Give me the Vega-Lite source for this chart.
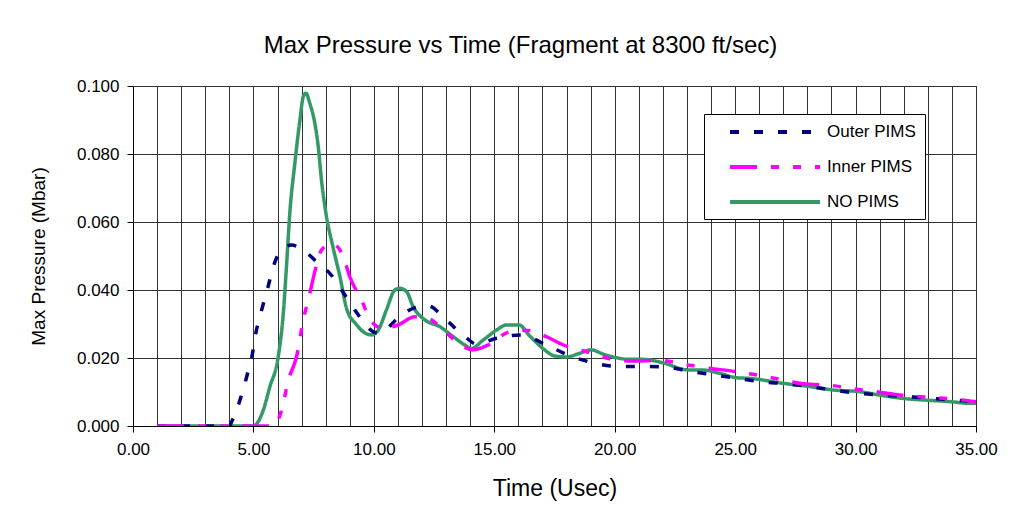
{
  "$schema": "https://vega.github.io/schema/vega-lite/v6.json",
  "width": 843,
  "height": 340,
  "autosize": "none",
  "padding": {"left": 133, "top": 86, "right": 41, "bottom": 94},
  "background": "white",
  "title": {
    "text": "Max Pressure vs Time (Fragment at 8300 ft/sec)",
    "font": "Liberation Sans",
    "fontSize": 24,
    "fontWeight": "normal",
    "color": "#000000",
    "anchor": "middle",
    "dx": -34,
    "offset": 19
  },
  "config": {
    "view": {"stroke": "#333333", "strokeWidth": 1},
    "axis": {
      "labelFont": "Liberation Sans",
      "titleFont": "Liberation Sans",
      "labelColor": "#000000",
      "titleColor": "#000000",
      "titleFontWeight": "normal",
      "domainColor": "#000000",
      "tickColor": "#000000",
      "gridColor": "#333333",
      "gridWidth": 1,
      "gridOpacity": 1
    }
  },
  "data": {
    "values": [
      {"series": "NO PIMS", "t": 1, "p": 0},
      {"series": "NO PIMS", "t": 2, "p": 0},
      {"series": "NO PIMS", "t": 3, "p": 0},
      {"series": "NO PIMS", "t": 4, "p": 0},
      {"series": "NO PIMS", "t": 5.0, "p": 0},
      {"series": "NO PIMS", "t": 5.41, "p": 0.0047},
      {"series": "NO PIMS", "t": 5.68, "p": 0.0115},
      {"series": "NO PIMS", "t": 6.03, "p": 0.0204},
      {"series": "NO PIMS", "t": 6.24, "p": 0.0331},
      {"series": "NO PIMS", "t": 6.38, "p": 0.0478},
      {"series": "NO PIMS", "t": 6.51, "p": 0.0626},
      {"series": "NO PIMS", "t": 6.72, "p": 0.0773},
      {"series": "NO PIMS", "t": 6.93, "p": 0.090},
      {"series": "NO PIMS", "t": 7.07, "p": 0.0969},
      {"series": "NO PIMS", "t": 7.18, "p": 0.0979},
      {"series": "NO PIMS", "t": 7.34, "p": 0.0949},
      {"series": "NO PIMS", "t": 7.55, "p": 0.089},
      {"series": "NO PIMS", "t": 7.69, "p": 0.0822},
      {"series": "NO PIMS", "t": 7.83, "p": 0.072},
      {"series": "NO PIMS", "t": 8.01, "p": 0.0626},
      {"series": "NO PIMS", "t": 8.3, "p": 0.0527},
      {"series": "NO PIMS", "t": 8.59, "p": 0.044},
      {"series": "NO PIMS", "t": 8.87, "p": 0.0345},
      {"series": "NO PIMS", "t": 9.28, "p": 0.0298},
      {"series": "NO PIMS", "t": 9.6, "p": 0.0275},
      {"series": "NO PIMS", "t": 9.9, "p": 0.0268},
      {"series": "NO PIMS", "t": 10.18, "p": 0.0282},
      {"series": "NO PIMS", "t": 10.52, "p": 0.0341},
      {"series": "NO PIMS", "t": 10.87, "p": 0.0400},
      {"series": "NO PIMS", "t": 11.08, "p": 0.0405},
      {"series": "NO PIMS", "t": 11.36, "p": 0.0395},
      {"series": "NO PIMS", "t": 11.63, "p": 0.0351},
      {"series": "NO PIMS", "t": 12.12, "p": 0.0312},
      {"series": "NO PIMS", "t": 12.74, "p": 0.0292},
      {"series": "NO PIMS", "t": 13.29, "p": 0.0263},
      {"series": "NO PIMS", "t": 13.78, "p": 0.0238},
      {"series": "NO PIMS", "t": 14.05, "p": 0.0228},
      {"series": "NO PIMS", "t": 14.54, "p": 0.0253},
      {"series": "NO PIMS", "t": 15.09, "p": 0.0282},
      {"series": "NO PIMS", "t": 15.5, "p": 0.0297},
      {"series": "NO PIMS", "t": 16.03, "p": 0.0297},
      {"series": "NO PIMS", "t": 16.47, "p": 0.0265},
      {"series": "NO PIMS", "t": 17.02, "p": 0.0228},
      {"series": "NO PIMS", "t": 17.51, "p": 0.0206},
      {"series": "NO PIMS", "t": 18.0, "p": 0.0203},
      {"series": "NO PIMS", "t": 18.55, "p": 0.0214},
      {"series": "NO PIMS", "t": 19.03, "p": 0.0224},
      {"series": "NO PIMS", "t": 19.5, "p": 0.0212},
      {"series": "NO PIMS", "t": 20.06, "p": 0.0201},
      {"series": "NO PIMS", "t": 20.6, "p": 0.0196},
      {"series": "NO PIMS", "t": 21.17, "p": 0.0196},
      {"series": "NO PIMS", "t": 22.0, "p": 0.0186},
      {"series": "NO PIMS", "t": 23.04, "p": 0.0165},
      {"series": "NO PIMS", "t": 23.6, "p": 0.0165},
      {"series": "NO PIMS", "t": 24.36, "p": 0.0155},
      {"series": "NO PIMS", "t": 25.05, "p": 0.0142},
      {"series": "NO PIMS", "t": 25.6, "p": 0.014},
      {"series": "NO PIMS", "t": 27.05, "p": 0.0125},
      {"series": "NO PIMS", "t": 28.09, "p": 0.0116},
      {"series": "NO PIMS", "t": 29.06, "p": 0.0106},
      {"series": "NO PIMS", "t": 30.17, "p": 0.0101},
      {"series": "NO PIMS", "t": 31.0, "p": 0.0091},
      {"series": "NO PIMS", "t": 31.97, "p": 0.0081},
      {"series": "NO PIMS", "t": 32.93, "p": 0.0076},
      {"series": "NO PIMS", "t": 34.04, "p": 0.0071},
      {"series": "NO PIMS", "t": 34.66, "p": 0.0067},
      {"series": "NO PIMS", "t": 35, "p": 0.0067},

      {"series": "Outer PIMS", "t": 1, "p": 0},
      {"series": "Outer PIMS", "t": 2, "p": 0},
      {"series": "Outer PIMS", "t": 3, "p": 0},
      {"series": "Outer PIMS", "t": 4.0, "p": 0},
      {"series": "Outer PIMS", "t": 4.1, "p": 0.0013},
      {"series": "Outer PIMS", "t": 4.44, "p": 0.0076},
      {"series": "Outer PIMS", "t": 4.72, "p": 0.0145},
      {"series": "Outer PIMS", "t": 4.95, "p": 0.0209},
      {"series": "Outer PIMS", "t": 5.1, "p": 0.0273},
      {"series": "Outer PIMS", "t": 5.34, "p": 0.0341},
      {"series": "Outer PIMS", "t": 5.59, "p": 0.0405},
      {"series": "Outer PIMS", "t": 5.85, "p": 0.0474},
      {"series": "Outer PIMS", "t": 6.17, "p": 0.0518},
      {"series": "Outer PIMS", "t": 6.58, "p": 0.0532},
      {"series": "Outer PIMS", "t": 7.14, "p": 0.0513},
      {"series": "Outer PIMS", "t": 7.83, "p": 0.0469},
      {"series": "Outer PIMS", "t": 8.17, "p": 0.0449},
      {"series": "Outer PIMS", "t": 8.66, "p": 0.040},
      {"series": "Outer PIMS", "t": 9.21, "p": 0.0341},
      {"series": "Outer PIMS", "t": 9.7, "p": 0.0295},
      {"series": "Outer PIMS", "t": 10.0, "p": 0.0276},
      {"series": "Outer PIMS", "t": 10.24, "p": 0.0273},
      {"series": "Outer PIMS", "t": 11.0, "p": 0.0317},
      {"series": "Outer PIMS", "t": 11.63, "p": 0.0346},
      {"series": "Outer PIMS", "t": 12.25, "p": 0.0353},
      {"series": "Outer PIMS", "t": 13.0, "p": 0.0312},
      {"series": "Outer PIMS", "t": 13.78, "p": 0.0263},
      {"series": "Outer PIMS", "t": 14.26, "p": 0.0241},
      {"series": "Outer PIMS", "t": 15.09, "p": 0.0258},
      {"series": "Outer PIMS", "t": 16.13, "p": 0.0268},
      {"series": "Outer PIMS", "t": 17.16, "p": 0.0238},
      {"series": "Outer PIMS", "t": 18.13, "p": 0.0207},
      {"series": "Outer PIMS", "t": 19.1, "p": 0.0186},
      {"series": "Outer PIMS", "t": 20.14, "p": 0.0175},
      {"series": "Outer PIMS", "t": 21.17, "p": 0.0175},
      {"series": "Outer PIMS", "t": 22.14, "p": 0.0173},
      {"series": "Outer PIMS", "t": 23.18, "p": 0.016},
      {"series": "Outer PIMS", "t": 24.15, "p": 0.015},
      {"series": "Outer PIMS", "t": 25.1, "p": 0.014},
      {"series": "Outer PIMS", "t": 26.09, "p": 0.013},
      {"series": "Outer PIMS", "t": 27.13, "p": 0.0124},
      {"series": "Outer PIMS", "t": 28.09, "p": 0.0116},
      {"series": "Outer PIMS", "t": 29.06, "p": 0.0106},
      {"series": "Outer PIMS", "t": 30.17, "p": 0.0096},
      {"series": "Outer PIMS", "t": 31.13, "p": 0.0091},
      {"series": "Outer PIMS", "t": 32.2, "p": 0.0086},
      {"series": "Outer PIMS", "t": 33.2, "p": 0.0081},
      {"series": "Outer PIMS", "t": 34.1, "p": 0.0076},
      {"series": "Outer PIMS", "t": 35, "p": 0.0072},

      {"series": "Inner PIMS", "t": 1, "p": 0},
      {"series": "Inner PIMS", "t": 2, "p": 0},
      {"series": "Inner PIMS", "t": 3, "p": 0},
      {"series": "Inner PIMS", "t": 4, "p": 0},
      {"series": "Inner PIMS", "t": 5, "p": 0},
      {"series": "Inner PIMS", "t": 5.82, "p": 0},
      {"series": "Inner PIMS", "t": 6.17, "p": 0.0047},
      {"series": "Inner PIMS", "t": 6.45, "p": 0.0135},
      {"series": "Inner PIMS", "t": 6.79, "p": 0.0204},
      {"series": "Inner PIMS", "t": 7.07, "p": 0.0312},
      {"series": "Inner PIMS", "t": 7.34, "p": 0.039},
      {"series": "Inner PIMS", "t": 7.55, "p": 0.0454},
      {"series": "Inner PIMS", "t": 7.83, "p": 0.0518},
      {"series": "Inner PIMS", "t": 8.24, "p": 0.0537},
      {"series": "Inner PIMS", "t": 8.52, "p": 0.0525},
      {"series": "Inner PIMS", "t": 8.73, "p": 0.0498},
      {"series": "Inner PIMS", "t": 9.0, "p": 0.0439},
      {"series": "Inner PIMS", "t": 9.49, "p": 0.037},
      {"series": "Inner PIMS", "t": 9.9, "p": 0.0307},
      {"series": "Inner PIMS", "t": 10.39, "p": 0.0287},
      {"series": "Inner PIMS", "t": 11.0, "p": 0.0297},
      {"series": "Inner PIMS", "t": 11.7, "p": 0.0321},
      {"series": "Inner PIMS", "t": 12.25, "p": 0.0317},
      {"series": "Inner PIMS", "t": 12.74, "p": 0.0292},
      {"series": "Inner PIMS", "t": 13.43, "p": 0.0248},
      {"series": "Inner PIMS", "t": 14.12, "p": 0.0224},
      {"series": "Inner PIMS", "t": 14.74, "p": 0.0238},
      {"series": "Inner PIMS", "t": 15.64, "p": 0.0277},
      {"series": "Inner PIMS", "t": 16.4, "p": 0.0281},
      {"series": "Inner PIMS", "t": 17.16, "p": 0.0263},
      {"series": "Inner PIMS", "t": 17.85, "p": 0.0239},
      {"series": "Inner PIMS", "t": 19.05, "p": 0.0214},
      {"series": "Inner PIMS", "t": 19.79, "p": 0.0198},
      {"series": "Inner PIMS", "t": 20.76, "p": 0.0191},
      {"series": "Inner PIMS", "t": 21.87, "p": 0.0193},
      {"series": "Inner PIMS", "t": 23.07, "p": 0.0179},
      {"series": "Inner PIMS", "t": 23.8, "p": 0.0171},
      {"series": "Inner PIMS", "t": 25.05, "p": 0.016},
      {"series": "Inner PIMS", "t": 25.74, "p": 0.0152},
      {"series": "Inner PIMS", "t": 26.8, "p": 0.0138},
      {"series": "Inner PIMS", "t": 27.82, "p": 0.0124},
      {"series": "Inner PIMS", "t": 29.15, "p": 0.0118},
      {"series": "Inner PIMS", "t": 29.77, "p": 0.0111},
      {"series": "Inner PIMS", "t": 31.13, "p": 0.0098},
      {"series": "Inner PIMS", "t": 31.84, "p": 0.0091},
      {"series": "Inner PIMS", "t": 33.15, "p": 0.0084},
      {"series": "Inner PIMS", "t": 33.83, "p": 0.0081},
      {"series": "Inner PIMS", "t": 35.0, "p": 0.0071}
    ]
  },
  "mark": {"type": "line", "interpolate": "monotone", "strokeWidth": 3.5, "strokeCap": "butt", "clip": true},
  "encoding": {
    "x": {
      "field": "t",
      "type": "quantitative",
      "scale": {"domain": [0, 35], "nice": false},
      "axis": {
        "title": "Time (Usec)",
        "titleFontSize": 23,
        "titlePadding": 20,
        "values": [0,1,2,3,4,5,6,7,8,9,10,11,12,13,14,15,16,17,18,19,20,21,22,23,24,25,26,27,28,29,30,31,32,33,34,35],
        "labelExpr": "datum.value % 5 === 0 ? format(datum.value, '.2f') : ''",
        "labelFontSize": 17,
        "labelPadding": 9,
        "tickSize": 6,
        "tickOpacity": {"expr": "datum.value % 5 === 0 ? 1 : 0"},
        "grid": true,
        "labelFlush": false,
        "labelOverlap": false
      }
    },
    "y": {
      "field": "p",
      "type": "quantitative",
      "scale": {"domain": [0, 0.1], "nice": false},
      "axis": {
        "title": "Max Pressure (Mbar)",
        "titleFontSize": 19,
        "titlePadding": 28,
        "values": [0, 0.02, 0.04, 0.06, 0.08, 0.1],
        "format": ".3f",
        "labelFontSize": 17,
        "labelPadding": 8,
        "tickSize": 6,
        "grid": true
      }
    },
    "color": {
      "field": "series",
      "type": "nominal",
      "scale": {"domain": ["Outer PIMS", "Inner PIMS", "NO PIMS"], "range": ["#000080", "#FF00FF", "#339966"]},
      "legend": {
        "title": null,
        "orient": "none",
        "legendX": 571,
        "legendY": 28,
        "symbolType": "stroke",
        "symbolSize": 8100,
        "symbolStrokeWidth": 4,
        "symbolOffset": 15,
        "labelFont": "Liberation Sans",
        "labelFontSize": 17,
        "labelColor": "#000000",
        "labelOffset": 5,
        "fillColor": "white",
        "strokeColor": "#000000",
        "padding": 9,
        "rowPadding": 18,
        "labelLimit": 200,
        "encode": {
          "symbols": {"update": {"y": {"value": 9}}},
          "labels": {"update": {"y": {"value": 9}}}
        }
      }
    },
    "strokeDash": {
      "field": "series",
      "type": "nominal",
      "scale": {"domain": ["Outer PIMS", "Inner PIMS", "NO PIMS"], "range": [[9, 15], [27, 14, 8, 14, 8, 14], [1, 0]]},
      "legend": null
    }
  }
}
